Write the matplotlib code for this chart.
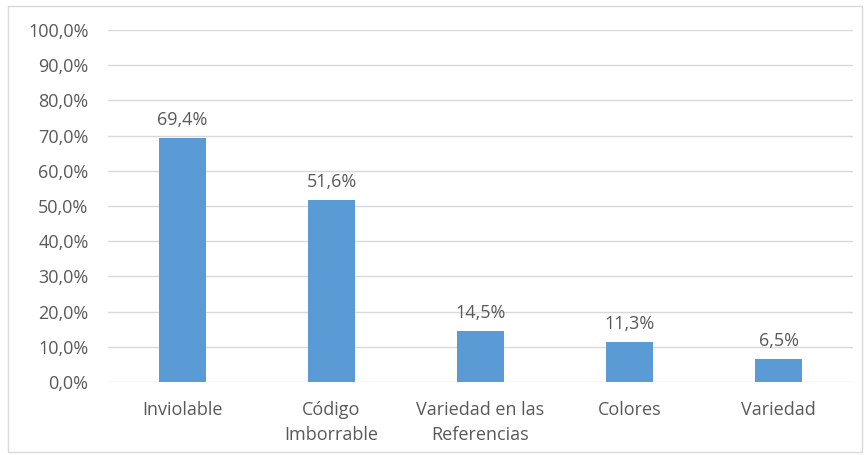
import matplotlib.pyplot as plt
import numpy as np
from matplotlib.patches import Rectangle
from matplotlib.ticker import FuncFormatter

categories = ["Inviolable", "Código\nImborrable", "Variedad en las\nReferencias", "Colores", "Variedad"]
values = [69.4, 51.6, 14.5, 11.3, 6.5]

text_color = "#595959"
plt.rcParams['font.family'] = ['Open Sans', 'DejaVu Sans']

fig = plt.figure(figsize=(8.66, 4.55), dpi=100)
ax = fig.add_axes([0.1247, 0.1604, 0.8603, 0.7736])

x = np.arange(len(values))
ax.bar(x, values, width=0.31, color="#5B9BD5", zorder=3)

for xi, v in zip(x, values):
    ax.annotate(f"{v:.1f}%".replace(".", ","), (xi, v), xytext=(0, 6.5),
                textcoords="offset points", ha="center", va="bottom",
                fontsize=13, color=text_color)

ax.set_xlim(-0.5, len(values) - 0.5)
ax.set_ylim(0, 100)
ax.set_yticks(np.arange(0, 101, 10))
ax.yaxis.set_major_formatter(FuncFormatter(lambda v, p: f"{v:.1f}%".replace(".", ",")))
ax.set_xticks(x)
ax.set_xticklabels(categories, linespacing=1.45)
ax.tick_params(axis="both", length=0, labelsize=13, colors=text_color)
ax.tick_params(axis="x", pad=14)
ax.tick_params(axis="y", pad=14)
ax.grid(axis="y", color="#D9D9D9", linewidth=1, zorder=0)
for s in ax.spines.values():
    s.set_visible(False)

# light frame around the whole chart
fig.patches.append(Rectangle((8 / 866, 3 / 455), 854 / 866, 446 / 455,
                             transform=fig.transFigure, fill=False,
                             edgecolor="#D9D9D9", linewidth=1))

fig.savefig("out.png", dpi=100)
